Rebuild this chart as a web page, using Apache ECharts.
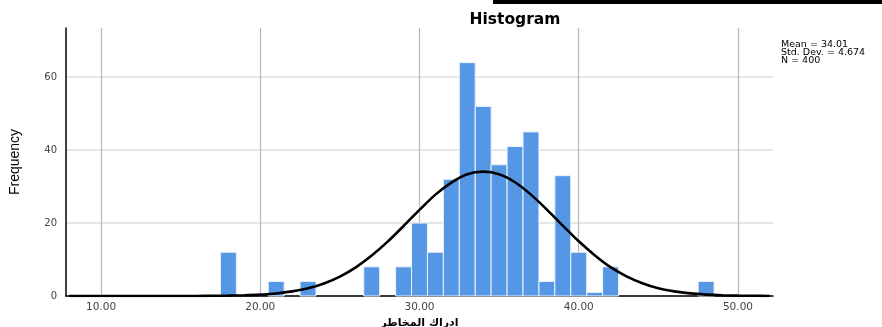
<!DOCTYPE html>
<html>
<head>
<meta charset="utf-8">
<script src="https://cdn.jsdelivr.net/npm/echarts@6/dist/echarts.min.js"></script>
<style>html,body{margin:0;padding:0;background:#fff;}#c{width:882px;height:327px;}</style>
</head>
<body>
<div id="c"></div>
<script>
// Histogram bins (bin centres, width 1) and frequencies
const binCenters = [18, 21, 23, 27, 29, 30, 31, 32, 33, 34, 35, 36, 37, 38, 39, 40, 41, 42, 48];
const frequencies = [12, 4, 4, 8, 8, 20, 12, 32, 64, 52, 36, 41, 45, 4, 33, 12, 1, 8, 4];
// Fitted normal curve
const curveX = [8,9,10,11,12,13,14,15,16,17,18,19,20,21,22,23,24,25,26,27,28,29,30,31,32,33,34,35,36,37,38,39,40,41,42,43,44,45,46,47,48,49,50,51,52];
const curveY = [0,0,0,0,0,0,0,0.01,0.02,0.05,0.1,0.2,0.38,0.7,1.26,2.1,3.44,5.33,7.87,11.1,14.9,19.2,23.6,27.8,31.1,33.4,34.1,33.4,31.2,27.8,23.7,19.3,15.0,11.2,7.9,5.4,3.5,2.1,1.27,0.72,0.39,0.2,0.1,0.05,0.02];
const xTicks = [10, 20, 30, 40, 50];
const yTicks = [0, 20, 40, 60];
const statsLines = ['Mean = 34.01', 'Std. Dev. = 4.674', 'N = 400'];
const titleText = 'Histogram';
const xName = 'ادراك المخاطر';
const yName = 'Frequency';

const chart = echarts.init(document.getElementById('c'), null, {renderer: 'canvas'});
const barData = binCenters.map((c, i) => [c, frequencies[i]]);
const lineData = curveX.map((x, i) => [x, curveY[i]]);

chart.setOption({
  animation: false,
  backgroundColor: '#ffffff',
  title: {
    text: titleText, left: 510, top: 7, textAlign: 'center',
    textStyle: {fontFamily: 'DejaVu Sans', fontWeight: 'bold', fontSize: 15.5, color: '#000'}
  },
  graphic: [
    {type: 'rect', left: 493, top: 0, shape: {width: 389, height: 4}, style: {fill: '#000'}},
    {type: 'text', left: 781, top: 40, style: {
      text: statsLines.join('\n'), fontFamily: 'DejaVu Sans', fontSize: 9.5, lineHeight: 7.6, fill: '#000'
    }}
  ],
  grid: {left: 66, right: 109, top: 28, bottom: 31, containLabel: false, outerBoundsMode: 'none'},
  xAxis: {
    type: 'value', min: 7.8, max: 52.2,
    name: xName, nameLocation: 'middle', nameGap: 21,
    nameTextStyle: {fontFamily: 'DejaVu Sans', fontWeight: 'bold', fontSize: 11, color: '#000'},
    axisLine: {show: true, lineStyle: {color: '#000', width: 1.5}},
    axisTick: {show: false, customValues: xTicks},
    axisLabel: {customValues: xTicks, formatter: v => v.toFixed(2), margin: 6,
      fontFamily: 'DejaVu Sans', fontSize: 10.5, color: '#444'},
    splitLine: {show: true, lineStyle: {color: '#b8b8b8', width: 1.2}}
  },
  yAxis: {
    type: 'value', min: 0, max: 73.5,
    name: yName, nameLocation: 'middle', nameGap: 44, nameRotate: 90,
    nameTextStyle: {fontFamily: 'Liberation Sans Narrow, Arial Narrow, sans-serif', fontSize: 14, color: '#000'},
    axisLine: {show: true, lineStyle: {color: '#000', width: 1.5}},
    axisTick: {show: false, customValues: yTicks},
    axisLabel: {customValues: yTicks, margin: 9, fontFamily: 'DejaVu Sans', fontSize: 10, color: '#444'},
    splitLine: {show: true, lineStyle: {color: '#dedede', width: 1.5}}
  },
  series: [
    {
      type: 'custom',
      data: barData,
      z: 2,
      renderItem: function (params, api) {
        const x = api.value(0), y = api.value(1);
        const p1 = api.coord([x - 0.5, y]);
        const p2 = api.coord([x + 0.5, 0]);
        return {
          type: 'rect',
          shape: {x: p1[0], y: p1[1], width: p2[0] - p1[0], height: p2[1] - p1[1]},
          style: {fill: '#5597e5', stroke: '#eaf2fc', lineWidth: 1}
        };
      }
    },
    {
      type: 'line', data: lineData, smooth: 0.3, showSymbol: false, z: 5,
      lineStyle: {color: '#000', width: 2.6}
    }
  ]
});
</script>
</body>
</html>
